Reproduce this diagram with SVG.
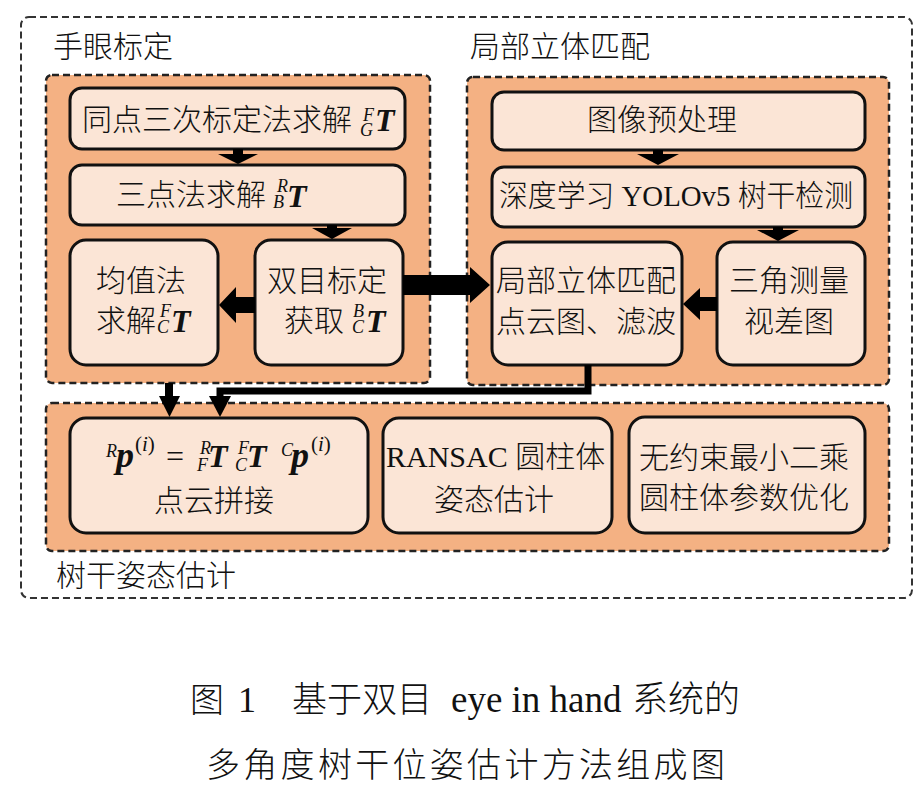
<svg xmlns="http://www.w3.org/2000/svg" width="920" height="797" viewBox="0 0 920 797">
<style>
.t{font-family:"Liberation Serif","Noto Sans CJK SC",serif;font-size:30px;fill:#111;font-weight:300}
.cap{font-family:"Liberation Serif","Noto Sans CJK SC",serif;font-size:34px;fill:#111;font-weight:300}
.outer{fill:none;stroke:#333;stroke-width:2;stroke-dasharray:7 4}
.grp{fill:#F4B183;stroke:#222;stroke-width:2.5;stroke-dasharray:7 4}
.box{fill:#FBE5D6;stroke:#111;stroke-width:3}
.m{font-family:"Liberation Serif",serif;font-style:italic;fill:#111;font-size:18px}
.b{font-weight:bold;font-size:32px}
.bp{font-weight:bold;font-size:36px}
.pi{font-style:normal;font-size:21px}
.eq{font-style:normal;font-size:32px}
.ar{fill:#000}
.ln{fill:none;stroke:#000;stroke-width:7}
</style>
<rect class="outer" x="21" y="17" width="891" height="581" rx="8"/>

<g id="hand-eye">
<rect class="grp" x="46" y="75" width="384" height="308" rx="6"/>
<text class="t" x="53" y="57">手眼标定</text>
</g>
<g id="stereo">
<rect class="grp" x="467" y="77" width="422" height="308" rx="6"/>
<text class="t" x="470" y="57">局部立体匹配</text>
</g>
<g id="pose">
<rect class="grp" x="46" y="403" width="843" height="148" rx="6"/>
<text class="t" x="56" y="586">树干姿态估计</text>
</g>

<g id="n1">
<rect class="box" x="70" y="88" width="335" height="61" rx="12"/>
<text class="t" x="82" y="130">同点三次标定法求解</text>
<text class="m"><tspan x="363" y="121">F</tspan><tspan x="360" y="136">G</tspan><tspan class="b" x="375" y="131">T</tspan></text>
</g>
<g id="n2">
<rect class="box" x="70" y="165" width="335" height="60" rx="12"/>
<text class="t" x="116" y="205">三点法求解</text>
<text class="m"><tspan x="277" y="192">R</tspan><tspan x="273" y="208">B</tspan><tspan class="b" x="287" y="207">T</tspan></text>
</g>
<g id="n3">
<rect class="box" x="70" y="240" width="148" height="125" rx="16"/>
<text class="t" x="96" y="291">均值法</text>
<text class="t" x="96" y="331">求解</text>
<text class="m"><tspan x="160" y="317">F</tspan><tspan x="157" y="333">C</tspan><tspan class="b" x="171" y="332">T</tspan></text>
</g>
<g id="n4">
<rect class="box" x="255" y="240" width="148" height="125" rx="16"/>
<text class="t" x="267" y="291">双目标定</text>
<text class="t" x="284" y="331">获取</text>
<text class="m"><tspan x="353" y="317">B</tspan><tspan x="352" y="333">C</tspan><tspan class="b" x="366" y="332">T</tspan></text>
</g>
<g id="n5">
<rect class="box" x="492" y="92" width="373" height="58" rx="12"/>
<text class="t" x="587" y="130">图像预处理</text>
</g>
<g id="n6">
<rect class="box" x="492" y="167" width="373" height="60" rx="12"/>
<text class="t" x="499" y="206" textLength="354" lengthAdjust="spacingAndGlyphs">深度学习 YOLOv5 树干检测</text>
</g>
<g id="n7">
<rect class="box" x="492" y="242" width="190" height="123" rx="16"/>
<text class="t" x="496" y="291">局部立体匹配</text>
<text class="t" x="496" y="332">点云图、滤波</text>
</g>
<g id="n8">
<rect class="box" x="717" y="242" width="148" height="123" rx="16"/>
<text class="t" x="729" y="291">三角测量</text>
<text class="t" x="744" y="332">视差图</text>
</g>
<g id="n9">
<rect class="box" x="70" y="418" width="298" height="115" rx="16"/>
<text class="m"><tspan x="106" y="457">R</tspan><tspan class="bp" x="116" y="467">p</tspan><tspan class="pi" x="135" y="451">(<tspan style="font-style:italic">i</tspan>)</tspan><tspan class="eq" x="166" y="467">=</tspan><tspan x="200" y="454">R</tspan><tspan x="197" y="471">F</tspan><tspan class="b" x="208" y="467">T</tspan><tspan x="238" y="454">F</tspan><tspan x="235" y="471">C</tspan><tspan class="b" x="247" y="467">T</tspan><tspan x="281" y="456">C</tspan><tspan class="bp" x="291" y="467">p</tspan><tspan class="pi" x="311" y="451">(<tspan style="font-style:italic">i</tspan>)</tspan></text>
<text class="t" x="154" y="511">点云拼接</text>
</g>
<g id="n10">
<rect class="box" x="383" y="418" width="229" height="115" rx="16"/>
<text class="t" x="386" y="467">RANSAC 圆柱体</text>
<text class="t" x="434" y="510">姿态估计</text>
</g>
<g id="n11">
<rect class="box" x="629" y="417" width="236" height="116" rx="16"/>
<text class="t" x="639" y="468">无约束最小二乘</text>
<text class="t" x="639" y="508">圆柱体参数优化</text>
</g>

<g id="connectors">
<polygon class="ar" points="233,149 243,149 243,154 258,154 238,164 218,154 233,154"/>
<polygon class="ar" points="327,225 337,225 337,228 352,228 332,239 312,228 327,228"/>
<polygon class="ar" points="653,150 663,150 663,154 679,154 658,165 637,154 653,154"/>
<polygon class="ar" points="773,227 783,227 783,230 799,230 778,241 757,230 773,230"/>
<polygon class="ar" points="255,297 236,297 236,287 219,305 236,323 236,313 255,313"/>
<polygon class="ar" points="403,275 470,275 470,267 490,285 470,303 470,295 403,295"/>
<polygon class="ar" points="717,297 700,297 700,288 683,304 700,320 700,311 717,311"/>
<polygon class="ar" points="165,383 173,383 173,396 180,396 169.5,417 159,396 165,396"/>
<path class="ln" d="M588,365 V391 H220 V398"/>
<polygon class="ar" points="209,396 231,396 220,417"/>
</g>

<g id="caption">
<text class="cap" x="190" y="712">图</text>
<text class="cap" x="238" y="712" style="font-size:36px">1</text>
<text class="cap" x="292" y="712" style="font-size:35px">基于双目</text>
<text class="cap" x="451" y="712" style="font-size:37px">eye in hand</text>
<text class="cap" x="632" y="712" style="font-size:36px">系统的</text>
<text class="cap" x="206" y="777" letter-spacing="3.3">多角度树干位姿估计方法组成图</text>
</g>
</svg>
